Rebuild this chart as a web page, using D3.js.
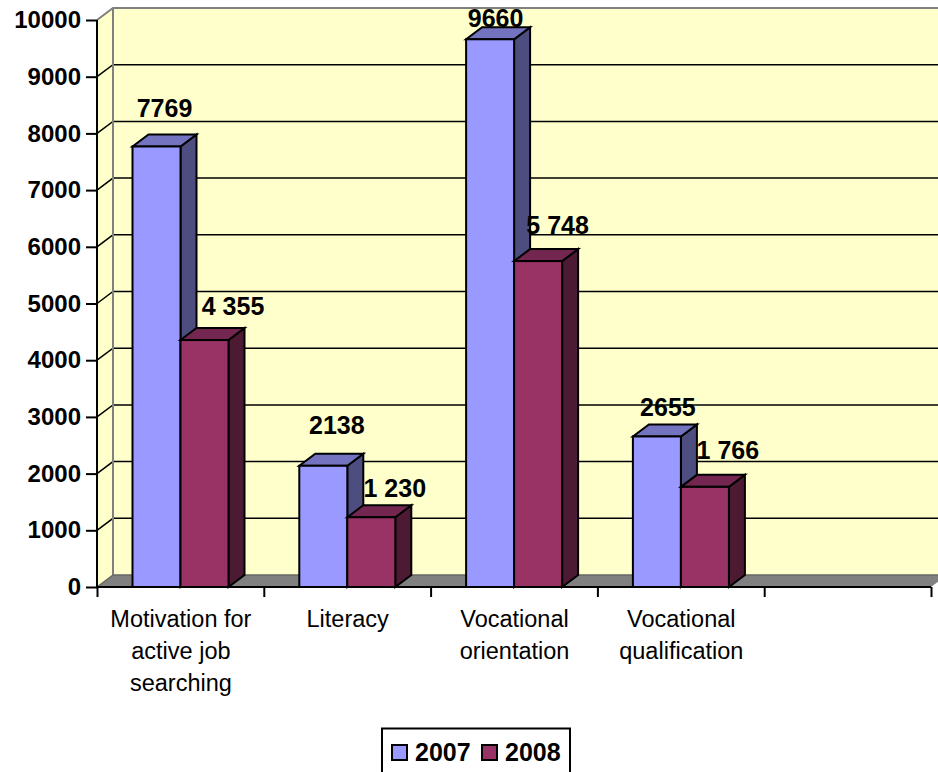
<!DOCTYPE html>
<html><head><meta charset="utf-8">
<script src="https://cdn.jsdelivr.net/npm/d3@7"></script>
<style>html,body{margin:0;padding:0;background:#fff;overflow:hidden}svg{display:block}text{font-family:"Liberation Sans",Arial,sans-serif}</style>
</head><body><div id="c"></div>
<script>
const categories=["Motivation for|active job|searching","Literacy","Vocational|orientation","Vocational|qualification",""];
const seriesNames=["2007","2008"];
const values2007=[7769,2138,9660,2655];
const values2008=[4355,1230,5748,1766];
const labels2007=["7769","2138","9660","2655"];
const labels2008=["4 355","1 230","5 748","1 766"];
const yTicks=[0,1000,2000,3000,4000,5000,6000,7000,8000,9000,10000];
const colors={"2007":["#9999ff","#7373bf","#4d4d80"],"2008":["#993366","#732650","#4d1a33"]};

const W=938,H=772,dx=16,dy=12;
const nudge2007=[[8,-29.5],[13.5,-31.8],[5.5,-12],[11,-20.5]];
const nudge2008=[[28.5,-25],[23.5,-20],[19.5,-27],[23,-28]];
const svg=d3.select("#c").append("svg").attr("width",W).attr("height",H);
const y=d3.scaleLinear().domain([0,10000]).range([587,20]);
const x=d3.scaleBand().domain(categories).range([97,931]);
const s=d3.scaleBand().domain(seriesNames).range([35.5,131.5]);
const poly=p=>p.map(d=>d.join(",")).join(" ");
// walls
const x0=x.range()[0],x1=x.range()[1],y0=y(0),yT=y(10000);
svg.append("polygon").attr("points",poly([[x0+dx,yT-dy],[x1+dx,yT-dy],[x1+dx,y0-dy],[x0+dx,y0-dy]])).attr("fill","#ffffcc");
svg.append("polygon").attr("points",poly([[x0,yT],[x0+dx,yT-dy],[x0+dx,y0-dy],[x0,y0]])).attr("fill","#ffffcc");
svg.append("polygon").attr("points",poly([[x0,y0],[x0+dx,y0-dy],[x1+dx,y0-dy],[x1,y0]])).attr("fill","#808080");
// gridlines
yTicks.filter(d=>d>0&&d<10000).forEach(t=>{
  svg.append("polyline").attr("points",poly([[x0,y(t)],[x0+dx,y(t)-dy],[x1+dx,y(t)-dy]])).attr("fill","none").attr("stroke","#000").attr("stroke-width",1.5);
});
svg.append("polyline").attr("points",poly([[x0,yT],[x0+dx,yT-dy],[x1+dx,yT-dy]])).attr("fill","none").attr("stroke","#808080").attr("stroke-width",2);
svg.append("line").attr("x1",x0+dx).attr("x2",x0+dx).attr("y1",yT-dy).attr("y2",y0-dy).attr("stroke","#808080").attr("stroke-width",2);
svg.append("line").attr("x1",x0+dx).attr("x2",x1+dx).attr("y1",y0-dy).attr("y2",y0-dy).attr("stroke","#666").attr("stroke-width",1.5);
svg.append("line").attr("x1",x0).attr("x2",x0+dx).attr("y1",y0).attr("y2",y0-dy).attr("stroke","#666").attr("stroke-width",1.5);
// bars
function bar(cat,name,v){
  const l=x(cat)+s(name),r=l+s.bandwidth(),t=y(v),c=colors[name];
  const g=svg.append("g").attr("stroke","#000").attr("stroke-width",2).attr("stroke-linejoin","miter");
  g.append("polygon").attr("points",poly([[r,t],[r+dx,t-dy],[r+dx,y0-dy],[r,y0]])).attr("fill",c[2]);
  g.append("polygon").attr("points",poly([[l,t],[l+dx,t-dy],[r+dx,t-dy],[r,t]])).attr("fill",c[1]);
  g.append("rect").attr("x",l).attr("y",t).attr("width",r-l).attr("height",y0-t).attr("fill",c[0]);
}
const drawn=categories.slice(0,4);
drawn.forEach((c,i)=>{bar(c,"2007",values2007[i]);bar(c,"2008",values2008[i]);});
// axes
const yAxis=d3.axisLeft(y).tickValues(yTicks).tickSize(11).tickPadding(5).tickFormat(d3.format("d"));
const gy=svg.append("g").attr("transform",`translate(${x0},0)`).call(yAxis);
gy.selectAll("line").attr("stroke","#000").attr("stroke-width",2);
gy.select(".domain").attr("stroke","#000").attr("stroke-width",2).attr("d",`M0,${yT}V${y0}`);
gy.selectAll("text").attr("font-family","Liberation Sans").attr("font-weight","bold").attr("font-size",24).attr("fill","#000");
const edges=categories.map(c=>x(c)).concat([x1]);
const xAxis=d3.axisBottom(d3.scaleLinear().domain([x0,x1]).range([x0,x1])).tickValues(edges).tickSize(10).tickFormat("");
const gx=svg.append("g").attr("transform",`translate(0,${y0})`).call(xAxis);
gx.selectAll("line").attr("stroke","#000").attr("stroke-width",2);
gx.select(".domain").attr("stroke","#000").attr("stroke-width",2).attr("d",`M${x0},0H${x1}`);
// category labels
categories.forEach(c=>{
  const cx=x(c)+x.bandwidth()/2;
  c.split("|").forEach((ln,i)=>{
    svg.append("text").attr("x",cx+0.5).attr("y",627+i*32).attr("text-anchor","middle").attr("font-size",23.5).attr("fill","#000").text(ln);
  });
});
// data labels
const dl=(c,name,v,txt,n)=>svg.append("text").attr("x",x(c)+s(name)+s.bandwidth()/2+n[0]).attr("y",y(v)+n[1]).attr("text-anchor","middle").attr("font-weight","bold").attr("font-size",25).attr("fill","#000").text(txt);
drawn.forEach((c,i)=>{dl(c,"2007",values2007[i],labels2007[i],nudge2007[i]);dl(c,"2008",values2008[i],labels2008[i],nudge2008[i]);});
// legend
svg.append("rect").attr("x",382).attr("y",728.5).attr("width",188).attr("height",50).attr("fill","#fff").attr("stroke","#000").attr("stroke-width",2);
const lx=d3.scaleBand().domain(seriesNames).range([392,572]);
seriesNames.forEach(n=>{
  svg.append("rect").attr("x",lx(n)).attr("y",745).attr("width",15).attr("height",15).attr("fill",colors[n][0]).attr("stroke","#000").attr("stroke-width",2);
  svg.append("text").attr("x",lx(n)+23).attr("y",761).attr("font-weight","bold").attr("font-size",25).attr("fill","#000").text(n);
});
</script></body></html>
